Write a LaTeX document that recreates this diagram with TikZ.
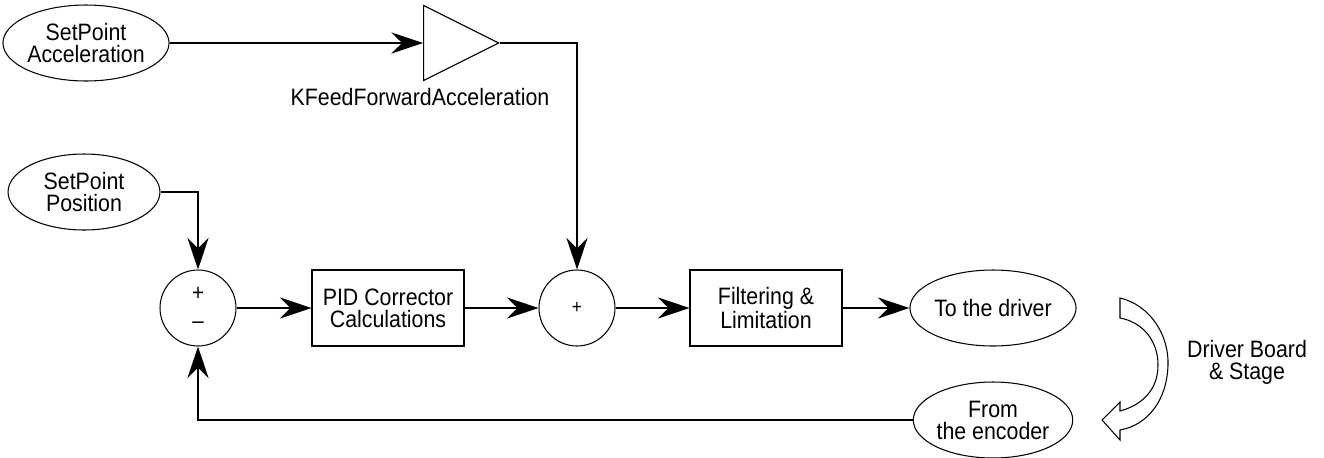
\documentclass[tikz,border=0pt]{standalone}
\usepackage{fontspec}
\setmainfont{Liberation Sans}[FakeStretch=0.9]
\usetikzlibrary{arrows.meta,shapes.geometric}
\begin{document}
\begin{tikzpicture}[x=0.02cm, y=-0.02cm,
            block/.style={draw, line width=0.6pt, minimum width=3.04cm,
                    minimum height=1.52cm, align=center, font=\fontsize{13.5}{12.5}\selectfont},
            port/.style={draw, ellipse, line width=0.6pt, minimum width=3.04cm,
                    minimum height=1.52cm, inner sep=0pt, align=center, font=\fontsize{13.5}{12.5}\selectfont},
            sum/.style={draw, circle, line width=0.6pt, minimum size=1.52cm,
                    inner sep=0pt, align=center, font=\fontsize{13}{16}\selectfont},
            arrow/.style={-{Stealth[length=18pt,width=12pt,inset=6pt]}, line width=1.5pt}
        ]
        \useasboundingbox (0,0) rectangle (1324,457);
        \node[port] (sacc) at (86,43) {SetPoint\\Acceleration};
        \node[draw, isosceles triangle, isosceles triangle stretches, line width=0.6pt,
              minimum width=1.5cm, minimum height=1.5cm, inner sep=0pt,
              anchor=apex] (gain) at (500,43) {};
        \node[font=\fontsize{13.5}{12.5}\selectfont] (kff) at (420,97) {KFeedForwardAcceleration};
        \node[port] (spos) at (84,192) {SetPoint\\Position};
        \node[sum] (err) at (198,308) {+\\--};
        \node[block] (pid) at (388,308) {PID Corrector\\Calculations};
        \node[sum, font=\fontsize{11}{16}\selectfont] (add) at (577,308) {+};
        \node[block] (filt) at (766,308) {Filtering \&\\Limitation};
        \node[port] (drv) at (993,308) {To the driver};
        \node[port] (enc) at (993,420) {From\\the encoder};
        \node[align=center, font=\fontsize{13.5}{12.5}\selectfont] (stage) at (1247,362) {Driver Board\\\& Stage};

        \draw[arrow] (sacc) -- (gain.west);
        \draw[arrow] (gain.apex) -| (add.north);
        \draw[arrow] (spos.east) -| (err.north);
        \draw[arrow] (err) -- (pid);
        \draw[arrow] (pid) -- (add);
        \draw[arrow] (add) -- (filt);
        \draw[arrow] (filt) -- (drv);
        \draw[arrow] (enc.west) -| (err.south);

        % hollow curved arrow for the driver board and stage
        \draw[line width=0.6pt, fill=white] (1120,298) .. controls (1150,305) and (1169,335) .. (1168,365)
            .. controls (1167,400) and (1148,425) .. (1120,430) -- (1120,440) -- (1102,420) -- (1120,402)
            -- (1120,411) .. controls (1142,405) and (1158,390) .. (1158,365)
            .. controls (1158,340) and (1142,322) .. (1120,318) -- cycle;
    \end{tikzpicture}
\end{document}
